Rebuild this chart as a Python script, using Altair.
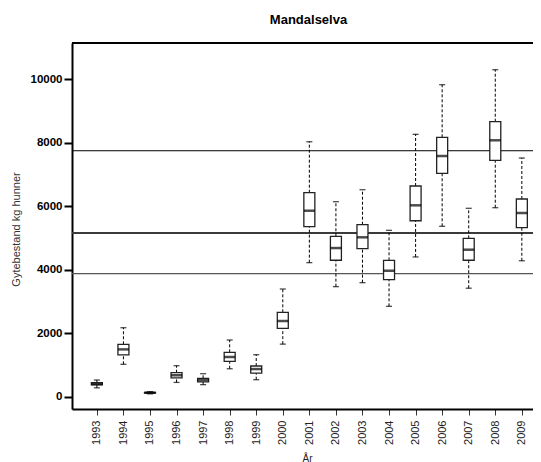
import altair as alt
import pandas as pd

years = list(range(1993, 2010))
lows = [280, 1020, 90, 450, 380, 880, 535, 1655, 4220, 3465, 3590, 2845, 4400, 5365, 3415, 5950, 4280]
q1s = [370, 1320, 115, 590, 465, 1115, 745, 2153, 5352, 4295, 4660, 3685, 5540, 7033, 4295, 7442, 5320]
medians = [400, 1490, 125, 675, 525, 1250, 870, 2383, 5855, 4680, 5018, 3966, 6025, 7577, 4628, 8072, 5783]
q3s = [440, 1650, 135, 755, 580, 1398, 966, 2657, 6422, 5050, 5415, 4294, 6633, 8166, 4986, 8657, 6224]
highs = [525, 2172, 160, 976, 724, 1785, 1322, 3390, 8027, 6139, 6516, 5238, 8260, 9822, 5931, 10294, 7514]

ref_values = [7743, 5153, 3872]
ref_colors = ["#000000", "#3a3a3a", "#555555"]
ref_widths = [1.0, 2.0, 1.2]

y_ticks = [0, 2000, 4000, 6000, 8000, 10000]

df = pd.DataFrame({"year": years, "low": lows, "q1": q1s, "med": medians,
                   "q3": q3s, "high": highs})
refs = pd.DataFrame({"v": ref_values, "c": ref_colors, "w": ref_widths})

W, H = 461, 366
xs = alt.Scale(domain=[1992.252, 2009.232], nice=False, zero=False)
ys = alt.Scale(domain=[-387, 11135], nice=False, zero=False)

FONT = "Liberation Sans"

x_axis = alt.Axis(values=years, tickCount=40, format="d", labelAngle=270, labelFontSize=11,
                  labelColor="#222", labelFont=FONT, tickSize=6, tickColor="#333",
                  tickWidth=1, labelPadding=5, domainWidth=2, domainColor="black",
                  labelOverlap=False, labelBound=False, labelFlush=False,
                  grid=False, title="År", titleFontSize=10, titleFontWeight="normal",
                  titleColor="#222", titleFont=FONT, titleX=235, titleY=44,
                  titleBaseline="top", titleAlign="center")
y_axis = alt.Axis(values=y_ticks, tickCount=20, format="d", labelFontSize=11.5,
                  labelFontWeight="bold",
                  labelColor="black", labelFont=FONT, tickSize=8, tickWidth=2,
                  tickColor="black", labelPadding=2, domainWidth=2, domainColor="black",
                  grid=False, title="Gytebestand kg hunner", titleFontSize=11,
                  titleFontWeight="normal", titleColor="#333", titleFont=FONT,
                  titleX=-56, titleY=186, titleAngle=270, titleAlign="center",
                  titleBaseline="middle")

base = alt.Chart(df)

ref_rules = alt.Chart(refs).mark_rule().encode(
    y=alt.Y("v:Q", scale=ys, axis=y_axis),
    color=alt.Color("c:N", scale=None),
    strokeWidth=alt.StrokeWidth("w:Q", scale=None),
)

whisk_lo = base.mark_rule(strokeDash=[3, 2], color="black", strokeWidth=1).encode(
    x=alt.X("year:Q", scale=xs, axis=x_axis),
    y=alt.Y("low:Q", scale=ys),
    y2="q1:Q",
)
whisk_hi = base.mark_rule(strokeDash=[3, 2], color="black", strokeWidth=1).encode(
    x=alt.X("year:Q", scale=xs),
    y=alt.Y("q3:Q", scale=ys),
    y2="high:Q",
)
cap_lo = base.mark_tick(orient="horizontal", size=6, thickness=1.3, color="black").encode(
    x=alt.X("year:Q", scale=xs), y=alt.Y("low:Q", scale=ys))
cap_hi = base.mark_tick(orient="horizontal", size=6, thickness=1.3, color="black").encode(
    x=alt.X("year:Q", scale=xs), y=alt.Y("high:Q", scale=ys))

boxes = base.mark_bar(size=11, fill="white", stroke="#222", strokeWidth=1.3).encode(
    x=alt.X("year:Q", scale=xs),
    y=alt.Y("q1:Q", scale=ys),
    y2="q3:Q",
)
meds = base.mark_tick(orient="horizontal", size=11, thickness=2.5, color="black").encode(
    x=alt.X("year:Q", scale=xs), y=alt.Y("med:Q", scale=ys))

top_border = alt.Chart(pd.DataFrame({"a": [0]})).mark_rule(color="black", strokeWidth=2).encode(
    x=alt.value(0), x2=alt.value(W), y=alt.value(0))

chart = alt.layer(
    ref_rules, whisk_lo, whisk_hi, cap_lo, cap_hi, boxes, meds, top_border
).properties(
    width=W, height=H,
    title=alt.TitleParams("Mandalselva", fontSize=13, fontWeight="bold", font=FONT,
                          anchor="middle", offset=15, dx=6, color="black"),
    autosize=alt.AutoSizeParams(type="none"),
    padding={"left": 64, "top": 35, "right": 0, "bottom": 53},
).configure_view(stroke=None).configure(background="white")

chart.save("out.html", embed_options={"renderer": "svg", "actions": False})
